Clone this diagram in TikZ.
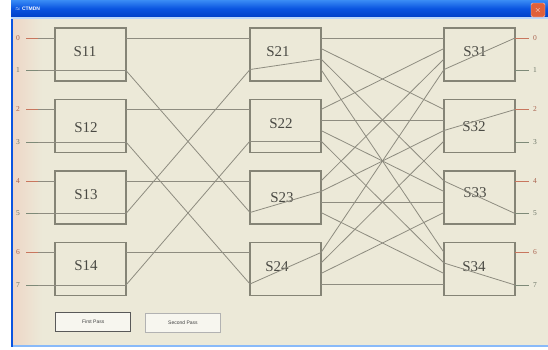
\documentclass[tikz,border=0pt]{standalone}
\usepackage{fontspec}
\usetikzlibrary{calc}
\setmainfont{Liberation Serif}
\newfontfamily\uisans{Liberation Sans}
\definecolor{winbg}{HTML}{ECE9D8}
\definecolor{boxc}{HTML}{858476}
\definecolor{wirec}{HTML}{8E8C80}
\definecolor{labc}{HTML}{4A4A44}
\definecolor{evenc}{HTML}{C8765E}
\definecolor{oddc}{HTML}{7E8A78}
\definecolor{xpblue}{HTML}{0A54E0}
\definecolor{xplight}{HTML}{3A8CF5}
\definecolor{xpdark}{HTML}{0040C8}
\definecolor{closec}{HTML}{E0603A}
\begin{document}
\begin{tikzpicture}[x=1pt,y=-1pt,
  swbox/.style={draw=boxc, line width=1.1pt, minimum width=71pt, minimum height=53pt, inner sep=0pt, outer sep=0pt, anchor=north west},
  wire/.style={draw=wirec, line width=0.8pt},
  swlab/.style={font=\fontsize{15}{15}\selectfont, text=labc, inner sep=0pt},
  portlab/.style={font=\fontsize{7.5}{8}\selectfont, inner sep=0pt},
  btn/.style={draw=#1, fill=white!60!winbg, minimum width=75pt, minimum height=19pt, inner sep=0pt, anchor=north west, font=\uisans\fontsize{5}{5}\selectfont, text=black!75},
]
\useasboundingbox (0,0) rectangle (548,349);
\fill[white] (0,0) rectangle (548,349);
% window body
\fill[winbg] (11,0) rectangle (548,347);
\shade[left color=red!8!winbg, right color=winbg] (13,18) rectangle (42,345);
\fill[xplight!60!white] (11,345) rectangle (548,347);
\draw[xpblue, line width=1.2pt] (12,0) -- (12,347);
% title bar
\shade[top color=xplight, bottom color=xpdark, middle color=xpblue] (11,0) rectangle (548,17);
\fill[xplight!35!white] (11,17) rectangle (548,19);
\node[anchor=west, text=white, font=\uisans\bfseries\fontsize{5}{5}\selectfont, inner sep=0pt] (title) at (15,9) {$\approx$ CTMDN};
\node[fill=closec, draw=white!70!closec, rounded corners=1.5pt, minimum width=14pt, minimum height=14pt, inner sep=0pt, text=white, font=\uisans\bfseries\fontsize{8}{8}\selectfont] (close) at (538,10) {$\times$};

% switch boxes and ports
\foreach \k/\T in {1/28,2/99.5,3/171,4/242.5} {
  \node[swbox] (A\k) at (55,\T) {};
  \node[swbox] (B\k) at (250,\T) {};
  \node[swbox] (C\k) at (444,\T) {};
  \coordinate (A\k i0) at (55,\T+10);
  \coordinate (A\k i1) at (55,\T+42.5);
  \coordinate (A\k o0) at (126,\T+10);
  \coordinate (A\k o1) at (126,\T+42.5);
  \coordinate (B\k i0) at (250,\T+10);
  \coordinate (B\k i1) at (250,\T+41.5);
  \coordinate (C\k o0) at (515,\T+10);
  \coordinate (C\k o1) at (515,\T+42.5);
  \foreach \j in {0,1,2,3} {
    \coordinate (B\k o\j) at (321,\T+10+10.5*\j);
    \coordinate (C\k i\j) at (444,\T+10+10.5*\j);
  }
}
% switch labels
\node[swlab] (L11) at (85,52) {S11};
\node[swlab] (L12) at (86,128) {S12};
\node[swlab] (L13) at (86,195) {S13};
\node[swlab] (L14) at (86,266) {S14};
\node[swlab] (L21) at (278,52) {S21};
\node[swlab] (L22) at (281,124) {S22};
\node[swlab] (L23) at (282,198) {S23};
\node[swlab] (L24) at (277,267) {S24};
\node[swlab] (L31) at (475,52) {S31};
\node[swlab] (L32) at (474,127) {S32};
\node[swlab] (L33) at (475,193) {S33};
\node[swlab] (L34) at (474,267) {S34};

% input and output labels
\foreach \n/\k/\p/\c in {0/1/0/evenc,1/1/1/oddc,2/2/0/evenc,3/2/1/oddc,4/3/0/evenc,5/3/1/oddc,6/4/0/evenc,7/4/1/oddc} {
  \node[portlab, text=\c!85!black] (in\n) at ($(A\k i\p)+(-37,0)$) {\n};
  \node[portlab, text=\c!85!black] (out\n) at ($(C\k o\p)+(20,0)$) {\n};
  \draw[wire] ([xshift=8pt]in\n.center) -- (A\k i\p);
  \draw[draw=\c, line width=0.8pt] ([xshift=8pt]in\n.center) -- ++(12,0);
  \draw[draw=\c, line width=0.8pt] (C\k o\p) -- ([xshift=-6pt]out\n.center);
}

% through lines in stage 1
\foreach \k in {1,2,3,4} { \draw[wire] (A\k i1) -- (A\k o1); }
% stage 1 -> stage 2
\foreach \k in {1,2,3,4} { \draw[wire] (A\k o0) -- (B\k i0); }
\draw[wire] (A1o1) -- (B3i1);
\draw[wire] (A2o1) -- (B4i1);
\draw[wire] (A3o1) -- (B1i1);
\draw[wire] (A4o1) -- (B2i1);
% through lines in stage 2
\draw[wire] (B1i1) -- (B1o2);
\draw[wire] (B2i1) -- (B2o3);
\draw[wire] (B3i1) -- (B3o1);
\draw[wire] (B4i1) -- (B4o0);
% stage 2 -> stage 3
\foreach \i in {1,2,3,4} {
  \foreach \j [evaluate=\j as \jj using int(\j+1), evaluate=\i as \ii using int(\i-1)] in {0,1,2,3} {
    \draw[wire] (B\i o\j) -- (C\jj i\ii);
  }
}
% through lines in stage 3
\draw[wire] (C1i3) -- (C1o0);
\draw[wire] (C2i2) -- (C2o0);
\draw[wire] (C3i0) -- (C3o1);
\draw[wire] (C4i1) -- (C4o1);

% buttons
\node[btn=black!65, line width=1.4pt] (first) at (55,312) {First Pass};
\node[btn=black!30, line width=0.8pt] (second) at (145,313) {Second Pass};
\end{tikzpicture}
\end{document}
